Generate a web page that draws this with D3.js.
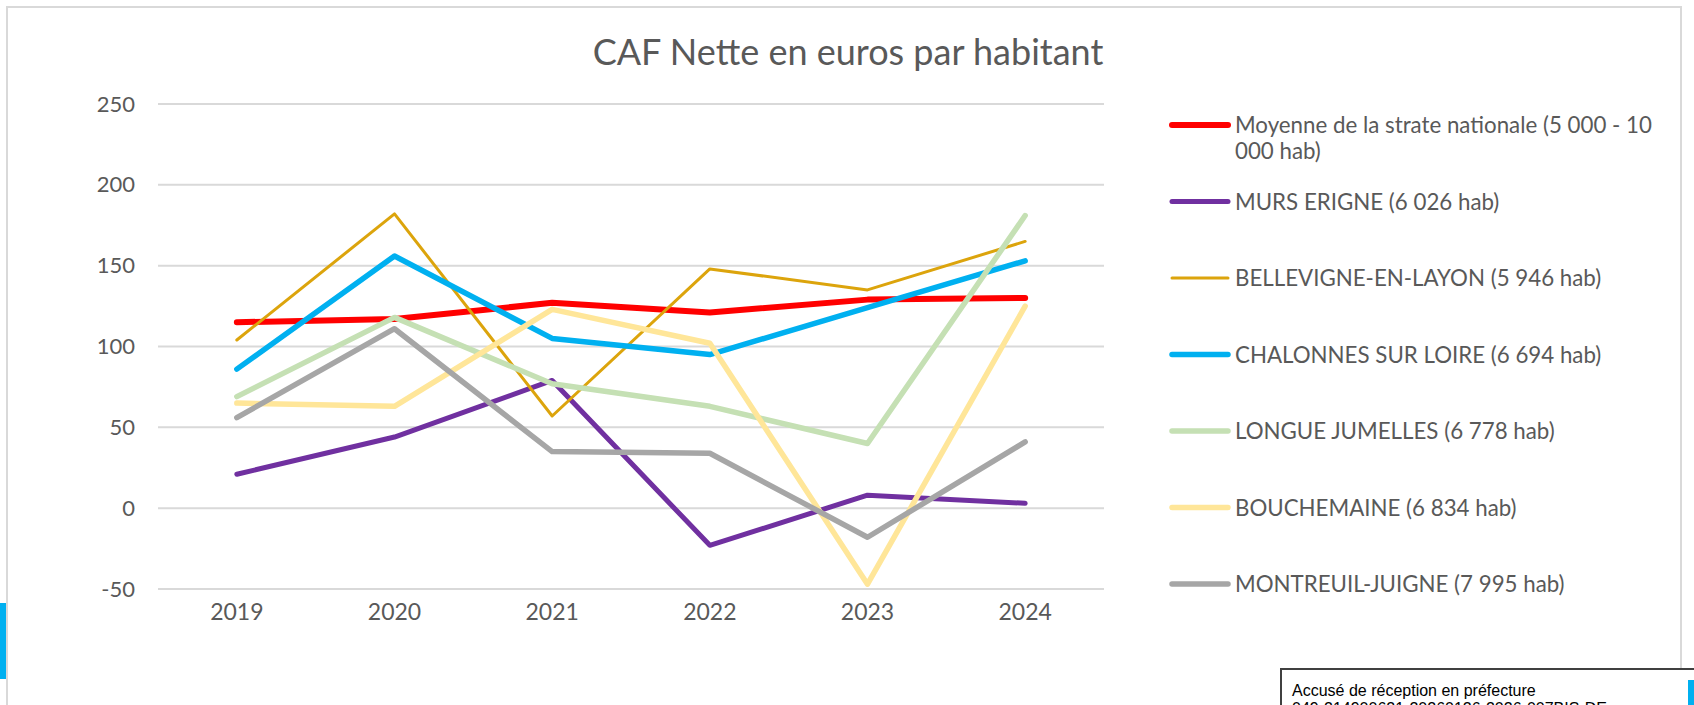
<!DOCTYPE html>
<html>
<head>
<meta charset="utf-8">
<script src="https://cdn.jsdelivr.net/npm/d3@7"></script>
<style>
  body { margin: 0; background: #fff; }
  svg { display: block; }
</style>
</head>
<body>
<svg id="chart"></svg>
<script>
// years on the x axis
const years = ["2019", "2020", "2021", "2022", "2023", "2024"];
const yTicks = [-50, 0, 50, 100, 150, 200, 250];

// series values (euros per inhabitant)
const moyenne = [115, 117, 127, 121, 129, 130];
const mursErigne = [21, 44, 79, -23, 8, 3];
const bellevigne = [104, 182, 57, 148, 135, 165];
const chalonnes = [86, 156, 105, 95, 124, 153];
const longue = [69, 118, 77, 63, 40, 181];
const bouchemaine = [65, 63, 123, 102, -47, 125];
const montreuil = [56, 111, 35, 34, -18, 41];

const seriesNames = [
  "Moyenne de la strate nationale (5 000 - 10 000 hab)",
  "MURS ERIGNE (6 026 hab)",
  "BELLEVIGNE-EN-LAYON (5 946 hab)",
  "CHALONNES SUR LOIRE (6 694 hab)",
  "LONGUE JUMELLES (6 778 hab)",
  "BOUCHEMAINE (6 834 hab)",
  "MONTREUIL-JUIGNE (7 995 hab)"
];
const seriesValues = [moyenne, mursErigne, bellevigne, chalonnes, longue, bouchemaine, montreuil];
const seriesColors = ["#ff0000", "#7030a0", "#dca40c", "#00b0f0", "#c5e0b4", "#ffe699", "#a6a6a6"];
const seriesWidths = [6, 5, 3, 5.5, 5.5, 5.5, 5.5];

const W = 1694, H = 705;
const svg = d3.select("#chart").attr("width", W).attr("height", H);

const textColor = "#595959";
const font = "Lato, 'Open Sans', sans-serif";

// chart frame and page decorations
svg.append("rect")
  .attr("x", 7).attr("y", 7)
  .attr("width", 1674).attr("height", 720)
  .attr("fill", "none")
  .attr("stroke", "#d9d9d9")
  .attr("stroke-width", 2);
svg.append("rect")
  .attr("x", 0).attr("y", 603)
  .attr("width", 6).attr("height", 76)
  .attr("fill", "#00b0f0");

// plot area
const plot = { left: 158, right: 1104, top: 104, bottom: 589 };

const x = d3.scaleBand()
  .domain(years)
  .range([plot.left, plot.right]);

const y = d3.scaleLinear()
  .domain([-50, 250])
  .range([plot.bottom, plot.top]);

// title
svg.append("text")
  .attr("x", 848).attr("y", 65)
  .attr("text-anchor", "middle")
  .attr("font-family", font)
  .attr("font-size", 36)
  .attr("fill", textColor)
  .text("CAF Nette en euros par habitant");

// gridlines
svg.append("g")
  .selectAll("line")
  .data(yTicks)
  .join("line")
  .attr("x1", plot.left).attr("x2", plot.right)
  .attr("y1", d => y(d)).attr("y2", d => y(d))
  .attr("stroke", "#d9d9d9")
  .attr("stroke-width", 2);

// y axis labels
const yAxis = svg.append("g")
  .attr("transform", "translate(" + (plot.left - 10) + ",0)")
  .call(d3.axisLeft(y).tickValues(yTicks).tickSize(0).tickPadding(13).tickFormat(d => String(d)));
yAxis.select(".domain").remove();
yAxis.selectAll("text")
  .attr("font-family", font)
  .attr("font-size", 22)
  .attr("fill", textColor);

// x axis labels
const xAxis = svg.append("g")
  .attr("transform", "translate(0," + plot.bottom + ")")
  .call(d3.axisBottom(x).tickSize(0).tickPadding(15));
xAxis.select(".domain").remove();
xAxis.selectAll("text")
  .attr("font-family", font)
  .attr("font-size", 23)
  .attr("fill", textColor);

// lines
const line = d3.line()
  .x((d, i) => x(years[i]) + x.bandwidth() / 2)
  .y(d => y(d));

svg.append("g")
  .selectAll("path")
  .data(seriesValues)
  .join("path")
  .attr("d", d => line(d))
  .attr("fill", "none")
  .attr("stroke", (d, i) => seriesColors[i])
  .attr("stroke-width", (d, i) => seriesWidths[i])
  .attr("stroke-linejoin", "round")
  .attr("stroke-linecap", "round");

// legend
const legend = svg.append("g");
const legendRows = legend.selectAll("g")
  .data(seriesNames)
  .join("g")
  .attr("transform", (d, i) => "translate(1172," + (125 + i * 76.5) + ")");

legendRows.append("line")
  .attr("x1", 0).attr("x2", 56)
  .attr("stroke", (d, i) => seriesColors[i])
  .attr("stroke-width", (d, i) => seriesWidths[i])
  .attr("stroke-linecap", "round");

legendRows.append("text")
  .attr("x", 63)
  .attr("y", 8)
  .attr("font-family", font)
  .attr("font-size", 22.3)
  .attr("fill", textColor)
  .each(function(d) {
    const t = d3.select(this);
    // first entry wraps onto two lines, like in the source chart
    if (d.startsWith("Moyenne")) {
      t.append("tspan").attr("x", 63).text("Moyenne de la strate nationale (5 000 - 10");
      t.append("tspan").attr("x", 63).attr("dy", 26).text("000 hab)");
    } else {
      t.text(d);
    }
  });

// reception stamp in the lower right corner
svg.append("rect")
  .attr("x", 1281).attr("y", 669)
  .attr("width", 440).attr("height", 80)
  .attr("fill", "#fff")
  .attr("stroke", "#404040")
  .attr("stroke-width", 2);
svg.append("rect")
  .attr("x", 1688).attr("y", 680)
  .attr("width", 6).attr("height", 30)
  .attr("fill", "#00b0f0");
svg.append("text")
  .attr("x", 1292).attr("y", 696)
  .attr("font-family", "'Liberation Sans', Arial, sans-serif")
  .attr("font-size", 16)
  .attr("fill", "#000")
  .text("Accusé de réception en préfecture");
svg.append("text")
  .attr("x", 1292).attr("y", 714)
  .attr("font-family", "'Liberation Sans', Arial, sans-serif")
  .attr("font-size", 16)
  .attr("fill", "#000")
  .text("049-214900621-20260126-2026-007BIS-DE");
</script>
</body>
</html>
